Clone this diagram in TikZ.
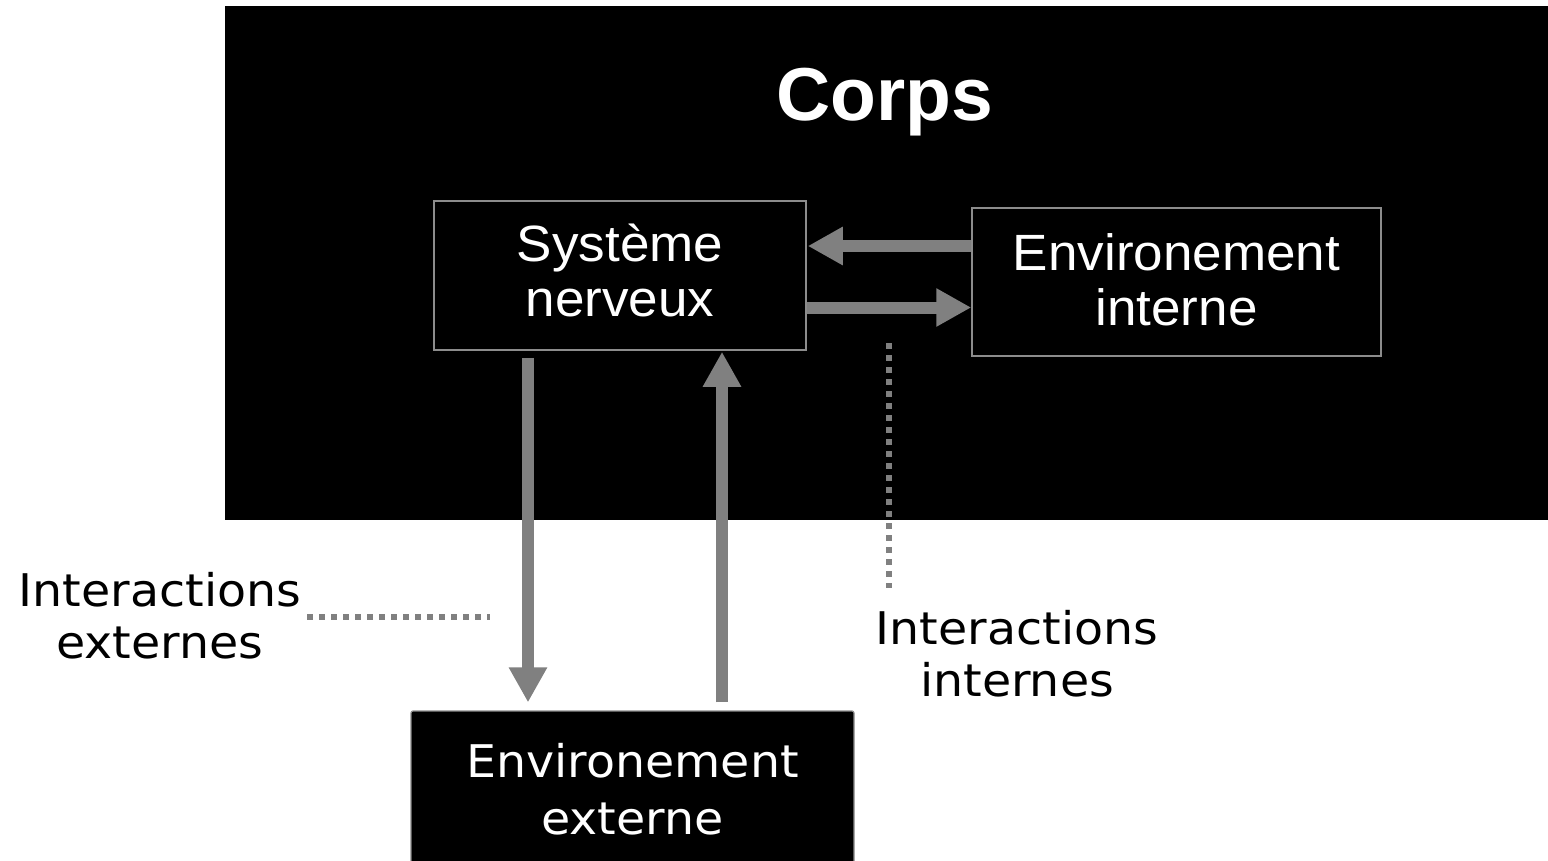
\documentclass[tikz,border=0pt]{standalone}
\usepackage{fontspec}
\setmainfont[FakeStretch=1.04]{Liberation Sans}
\newfontfamily\titlefont{Liberation Sans}
\newfontfamily\verdfont[FakeStretch=1.055]{DejaVu Sans}
\usetikzlibrary{arrows.meta}
\definecolor{arrgray}{HTML}{808080}
\definecolor{boxgray}{HTML}{8C8C8C}
\begin{document}
\begin{tikzpicture}[x=1pt,y=-1pt,
  bodybox/.style={draw=boxgray, line width=1.5pt, fill=black, text=white, align=center, inner sep=0pt,
    font=\fontsize{51}{55}\selectfont},
  extbox/.style={draw=boxgray, line width=1.2pt, rounded corners=2pt, fill=black, text=white, align=center, inner sep=0pt,
    font=\verdfont\fontsize{45}{57}\selectfont},
  lbl/.style={align=center, inner sep=0pt, text=black, font=\verdfont\fontsize{45}{52}\selectfont},
  bigarrow/.style={draw=arrgray, line width=12pt, -{Triangle[width=36pt,length=35pt]}},
  dotline/.style={draw=arrgray, line width=6pt, dash pattern=on 6pt off 6pt}
]
\useasboundingbox (0,0) rectangle (1548,860);
\fill[black] (225,6) rectangle (1548,520);
\node[anchor=base, text=white, inner sep=0pt, font=\titlefont\bfseries\fontsize{75}{80}\selectfont] (corps) at (885,120) {Corps};
\node[bodybox, minimum width=372pt, minimum height=149pt] (sn) at (620,275.5) {Système\\nerveux\rule[-10pt]{0pt}{0pt}};
\node[bodybox, minimum width=409pt, minimum height=148pt] (ei) at (1176.5,282) {Environement\\interne\rule[-4pt]{0pt}{0pt}};
\node[extbox, minimum width=443pt, minimum height=156pt] (ee) at (632.5,789) {Environement\\externe};
\node[lbl] (iext) at (160,616) {Interactions\\externes};
\node[lbl] (iint) at (1017,654) {Interactions\\internes};
% arrow positions
\coordinate (ya) at (0,246);
\coordinate (yb) at (0,307.5);
\coordinate (xa) at (528,0);
\coordinate (xb) at (722,0);
\draw[bigarrow] (ei.west |- ya) -- ([xshift=1pt]sn.east |- ya);
\draw[bigarrow] (sn.east |- yb) -- (ei.west |- yb);
\draw[bigarrow] ([yshift=-7pt]sn.south -| xa) -- ([yshift=8pt]ee.north -| xa);
\draw[bigarrow] ([yshift=8pt]ee.north -| xb) -- ([yshift=-1pt]sn.south -| xb);
% dotted leaders
\coordinate (dv1) at (889,343);
\coordinate (dv2) at (889,588);
\coordinate (dh1) at (307,617);
\coordinate (dh2) at (490,617);
\draw[dotline] (dv1) -- (dv2);
\draw[dotline] (dh1) -- (dh2);
\end{tikzpicture}
\end{document}
